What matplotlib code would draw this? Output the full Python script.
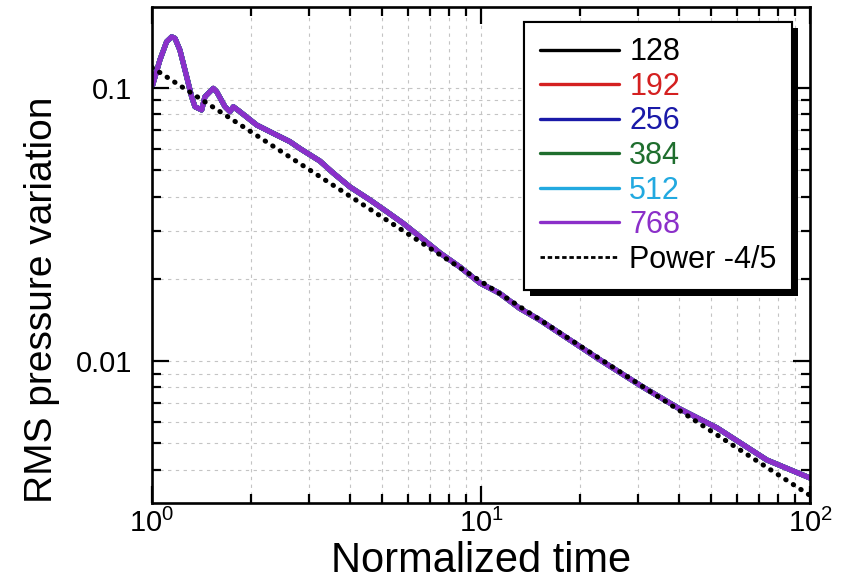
import matplotlib
matplotlib.use("Agg")
import matplotlib.pyplot as plt
import matplotlib.patheffects as pe
from matplotlib.ticker import FixedLocator, FixedFormatter, LogLocator, NullFormatter

plt.rcParams['font.family'] = ['Liberation Sans', 'DejaVu Sans']
plt.rcParams['mathtext.default'] = 'regular'

# ---- data ----
time_values = [1.005, 1.057, 1.108, 1.148, 1.175, 1.216, 1.275, 1.32, 1.351, 1.416, 1.449,
               1.536, 1.573, 1.667, 1.726, 1.767, 1.851, 2.081, 2.338, 2.627, 2.818, 3.24,
               3.55, 4.0, 4.6, 5.18, 5.79, 6.53, 7.5, 8.63, 9.93, 11.4, 13.1, 15.0, 23.0,
               30.9, 40.0, 52.2, 74.0, 100.0]
rms_values = [0.1026, 0.1266, 0.1478, 0.154, 0.152, 0.1377, 0.110, 0.0929, 0.0854, 0.0831, 0.0929,
              0.0997, 0.0969, 0.0854, 0.0819, 0.0854, 0.0819, 0.0732, 0.0682, 0.0636, 0.0600, 0.0540,
              0.0489, 0.0434, 0.0389, 0.0352, 0.0320, 0.0285, 0.0249, 0.0221, 0.0193, 0.0177,
              0.0156, 0.0142, 0.0101, 0.00806, 0.0067, 0.00569, 0.00434, 0.00373]

resolutions = ['128', '192', '256', '384', '512', '768']
series_colors = ['#000000', '#d42020', '#1a1aa8', '#1f6e2e', '#22a9e0', '#8b2fc9']

power_label = 'Power -4/5'
power_x = [1.0, 100.0]
power_y = [0.119, 0.00322]

x_ticks = [1, 10, 100]
x_tick_labels = ['$10^{0}$', '$10^{1}$', '$10^{2}$']
y_ticks = [0.01, 0.1]
y_tick_labels = ['0.01', '0.1']

# ---- figure ----
fig = plt.figure(figsize=(8.41, 5.84), dpi=100)
ax = fig.add_axes([0.1807, 0.1387, 0.7824, 0.8493])

for lab, col in zip(resolutions, series_colors):
    ax.plot(time_values, rms_values, color=col, lw=3.7, label=lab,
            solid_joinstyle='round', solid_capstyle='round')

ax.plot(power_x, power_y, color='black', lw=3.6, linestyle=(0, (0.1, 1.7)),
        dash_capstyle='round', label=power_label)

ax.set_xscale('log')
ax.set_yscale('log')
ax.set_xlim(1, 100)
ax.set_ylim(0.00302, 0.198)

ax.xaxis.set_major_locator(FixedLocator(x_ticks))
ax.xaxis.set_major_formatter(FixedFormatter(x_tick_labels))
ax.xaxis.set_minor_locator(LogLocator(base=10, subs=range(2, 10)))
ax.xaxis.set_minor_formatter(NullFormatter())
ax.yaxis.set_major_locator(FixedLocator(y_ticks))
ax.yaxis.set_major_formatter(FixedFormatter(y_tick_labels))
ax.yaxis.set_minor_locator(LogLocator(base=10, subs=range(2, 10)))
ax.yaxis.set_minor_formatter(NullFormatter())

ax.tick_params(which='both', direction='in', top=True, right=True, width=1.6, colors='black')
ax.tick_params(which='major', length=12)
ax.tick_params(which='minor', length=6.5)
ax.tick_params(axis='x', which='major', pad=4, labelsize=21)
ax.tick_params(axis='y', which='major', pad=14, labelsize=21)

for sp in ax.spines.values():
    sp.set_linewidth(1.9)

ax.grid(which='both', color='#c4c4c4', linestyle=(0, (3, 4)), linewidth=0.8)
ax.set_axisbelow(True)

ax.set_xlabel('Normalized time', fontsize=30, labelpad=2)
ax.set_ylabel('RMS pressure variation', fontsize=28)
ax.yaxis.set_label_coords(-0.14, 0.41)

handles, labels = ax.get_legend_handles_labels()
leg = ax.legend(handles, labels, loc='upper right', bbox_to_anchor=(0.9726, 0.9698),
                borderaxespad=0, fontsize=22, handlelength=2.6, handletextpad=0.33,
                labelspacing=0.15, borderpad=0.5, fancybox=False, framealpha=1,
                edgecolor='black')
frame = leg.get_frame()
frame.set_linewidth(1.5)
frame.set_path_effects([pe.withSimplePatchShadow(offset=(4.2, -4.2), shadow_rgbFace='black',
                                                 alpha=1.0), pe.Normal()])
for txt, col in zip(leg.get_texts(), series_colors + ['#000000']):
    txt.set_color(col)
leg_lines = leg.get_lines()
leg_lines[-1].set_linestyle((0, (1.6, 1.0)))
leg_lines[-1].set_linewidth(2.0)
leg_lines[-1].set_dash_capstyle('butt')
for ln in leg_lines[:-1]:
    ln.set_linewidth(2.4)

fig.savefig('out.png', dpi=100)
